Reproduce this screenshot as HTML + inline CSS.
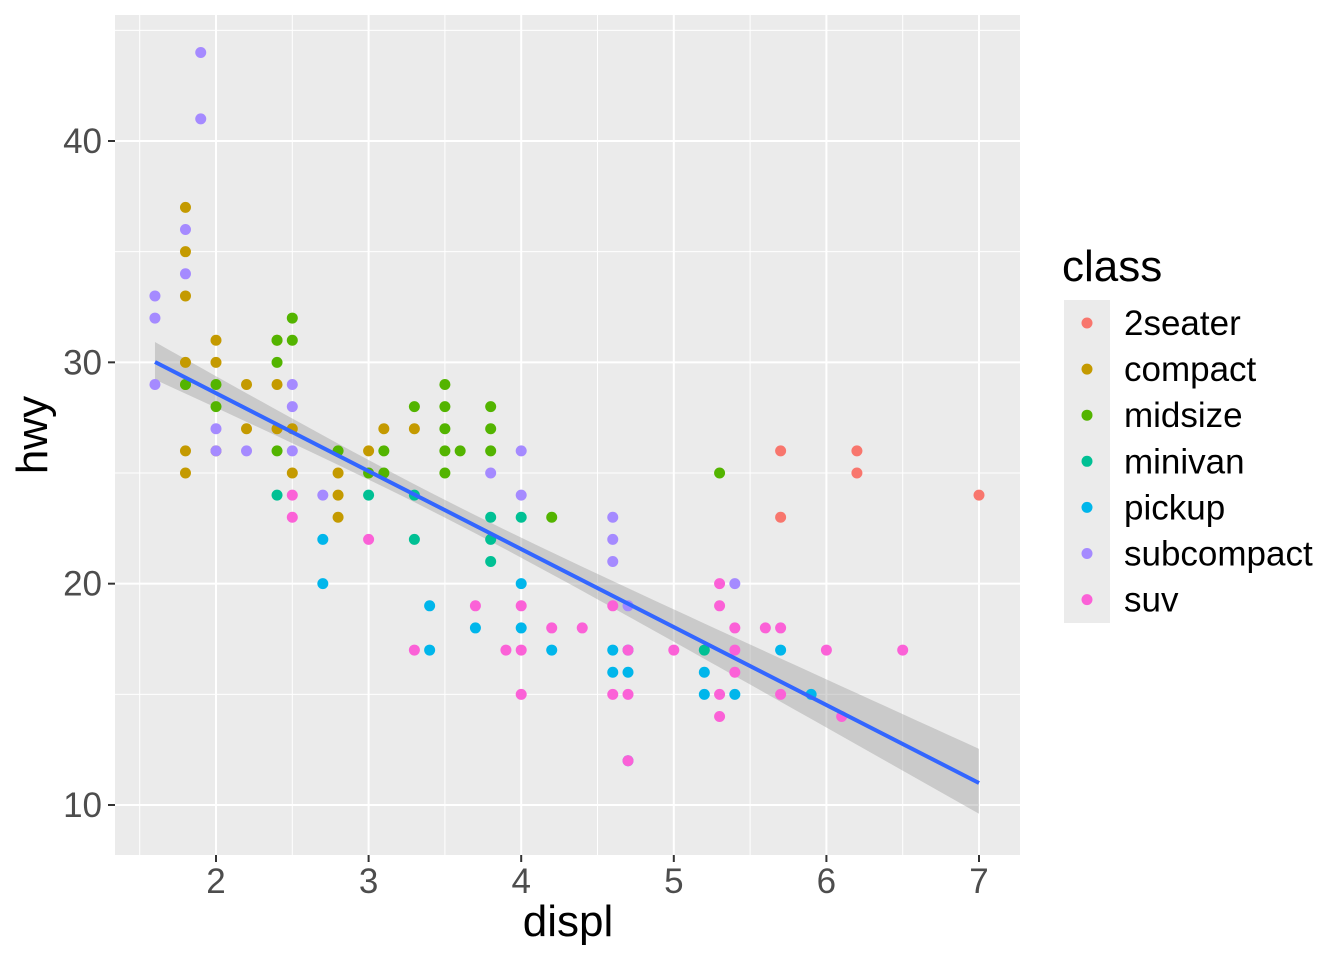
<!DOCTYPE html>
<html><head><meta charset="utf-8"><style>
body{margin:0;background:#fff;}
svg{display:block;font-family:"Liberation Sans",sans-serif;}
</style></head><body>
<svg id="s" width="1344" height="960" xmlns="http://www.w3.org/2000/svg">
<rect x="115" y="15" width="905" height="840" fill="#ebebeb"/>
<g id="grid"></g>
<g id="band"></g>
<g id="pts"></g>
<line x1="155" y1="362" x2="979" y2="783" stroke="#3366ff" stroke-width="4"/>
<g id="ticks" stroke="#333" stroke-width="2"></g>
<g id="labels" fill="#4d4d4d" style="font-size:35px"></g>
<text x="568" y="936" style="font-size:44px" text-anchor="middle" fill="#000">displ</text>
<text transform="translate(47,435) rotate(-90)" style="font-size:44px" text-anchor="middle" fill="#000">hwy</text>
<text x="1062" y="281" style="font-size:44px" fill="#000">class</text>
<rect x="1064" y="300" width="46" height="323" fill="#ebebeb"/>
<g id="legend" style="font-size:35px" fill="#000"></g>
</svg>
<script>
const NS="http://www.w3.org/2000/svg";
const X=d=>216+(d-2)*152.6, Y=h=>805-(h-10)*22.133;
function el(p,t,a,txt){const e=document.createElementNS(NS,t);for(const k in a)e.setAttribute(k,a[k]);if(txt!=null)e.textContent=txt;document.getElementById(p).appendChild(e);}
for(let d=1.5;d<=6.6;d+=1)el('grid','line',{x1:X(d),x2:X(d),y1:15,y2:855,stroke:'#fff','stroke-width':1});
for(let h=15;h<=45;h+=10)el('grid','line',{x1:115,x2:1020,y1:Y(h),y2:Y(h),stroke:'#fff','stroke-width':1});
for(let d=2;d<=7;d++){el('grid','line',{x1:X(d),x2:X(d),y1:15,y2:855,stroke:'#fff','stroke-width':2});
 el('ticks','line',{x1:X(d),x2:X(d),y1:855,y2:862});el('labels','text',{x:X(d),y:893,'text-anchor':'middle'},d);}
for(let h=10;h<=40;h+=10){el('grid','line',{x1:115,x2:1020,y1:Y(h),y2:Y(h),stroke:'#fff','stroke-width':2});
 el('ticks','line',{x1:108,x2:115,y1:Y(h),y2:Y(h)});el('labels','text',{x:102,y:Y(h)+12,'text-anchor':'end'},h);}
const f=d=>30.07-(d-1.6)*(19/5.4);
const hw=d=>Math.sqrt(0.16+Math.pow(0.4*(d-3.47),2));
let up=[],lo=[];
for(let d=1.6;d<=7.001;d+=0.1){up.push(X(d)+','+Y(f(d)+hw(d)));lo.unshift(X(d)+','+Y(f(d)-hw(d)));}
el('band','polygon',{points:up.concat(lo).join(' '),fill:'#999',opacity:0.4});
const C={a:'#F8766D',c:'#C49A00',m:'#53B400',n:'#00C094',p:'#00B6EB',s:'#A58AFF',u:'#FB61D7'};
const D={
a:[[5.7,26],[5.7,23],[6.2,26],[6.2,25],[7,24]],
c:[[1.8,29],[1.8,37],[1.8,35],[1.8,33],[1.8,30],[1.8,26],[1.8,25],[2,31],[2,30],[2,26],[2.2,29],[2.2,27],[2.4,31],[2.4,29],[2.4,27],[2.5,27],[2.5,25],[2.8,25],[2.8,24],[2.8,23],[3,26],[3.1,27],[3.3,27]],
m:[[1.8,29],[2,29],[2,28],[2.4,31],[2.4,30],[2.4,26],[2.5,32],[2.5,31],[2.8,26],[3,25],[3.1,26],[3.1,25],[3.3,28],[3.5,29],[3.5,28],[3.5,27],[3.5,26],[3.5,25],[3.6,26],[3.8,28],[3.8,27],[3.8,26],[4.2,23],[5.3,25]],
n:[[2.4,24],[3,24],[3.3,24],[3.3,22],[3.8,23],[3.8,22],[3.8,21],[4,23],[5.2,17]],
p:[[2.7,22],[2.7,20],[3.4,19],[3.4,17],[3.7,18],[4,20],[4,18],[4.2,17],[4.6,17],[4.6,16],[4.7,17],[4.7,16],[4.7,12],[5.2,16],[5.2,15],[5.4,15],[5.7,17],[5.9,15]],
s:[[1.6,33],[1.6,32],[1.6,29],[1.8,36],[1.8,34],[1.9,44],[1.9,41],[2,27],[2,26],[2.2,26],[2.5,29],[2.5,28],[2.5,26],[2.7,24],[3.8,25],[4,26],[4,24],[4.6,23],[4.6,22],[4.6,21],[5.4,20],[4.7,19]],
u:[[2.5,24],[2.5,23],[3,22],[3.3,17],[3.7,19],[3.9,17],[4,19],[4,17],[4,15],[4.2,18],[4.4,18],[4.6,19],[4.6,15],[4.7,17],[4.7,15],[4.7,12],[5,17],[5.3,20],[5.3,19],[5.3,15],[5.3,14],[5.4,18],[5.4,17],[5.4,16],[5.6,18],[5.7,18],[5.7,15],[6,17],[6.1,14],[6.5,17]]};
for(const k in D)for(const [d,h] of D[k])el('pts','circle',{cx:X(d),cy:Y(h),r:5.5,fill:C[k]});
const L=[['a','2seater'],['c','compact'],['m','midsize'],['n','minivan'],['p','pickup'],['s','subcompact'],['u','suv']];
L.forEach(([k,t],i)=>{const y=323+i*46.1;el('legend','circle',{cx:1087,cy:y,r:5.5,fill:C[k]});el('legend','text',{x:1124,y:y+12},t);});
</script>
</body></html>
